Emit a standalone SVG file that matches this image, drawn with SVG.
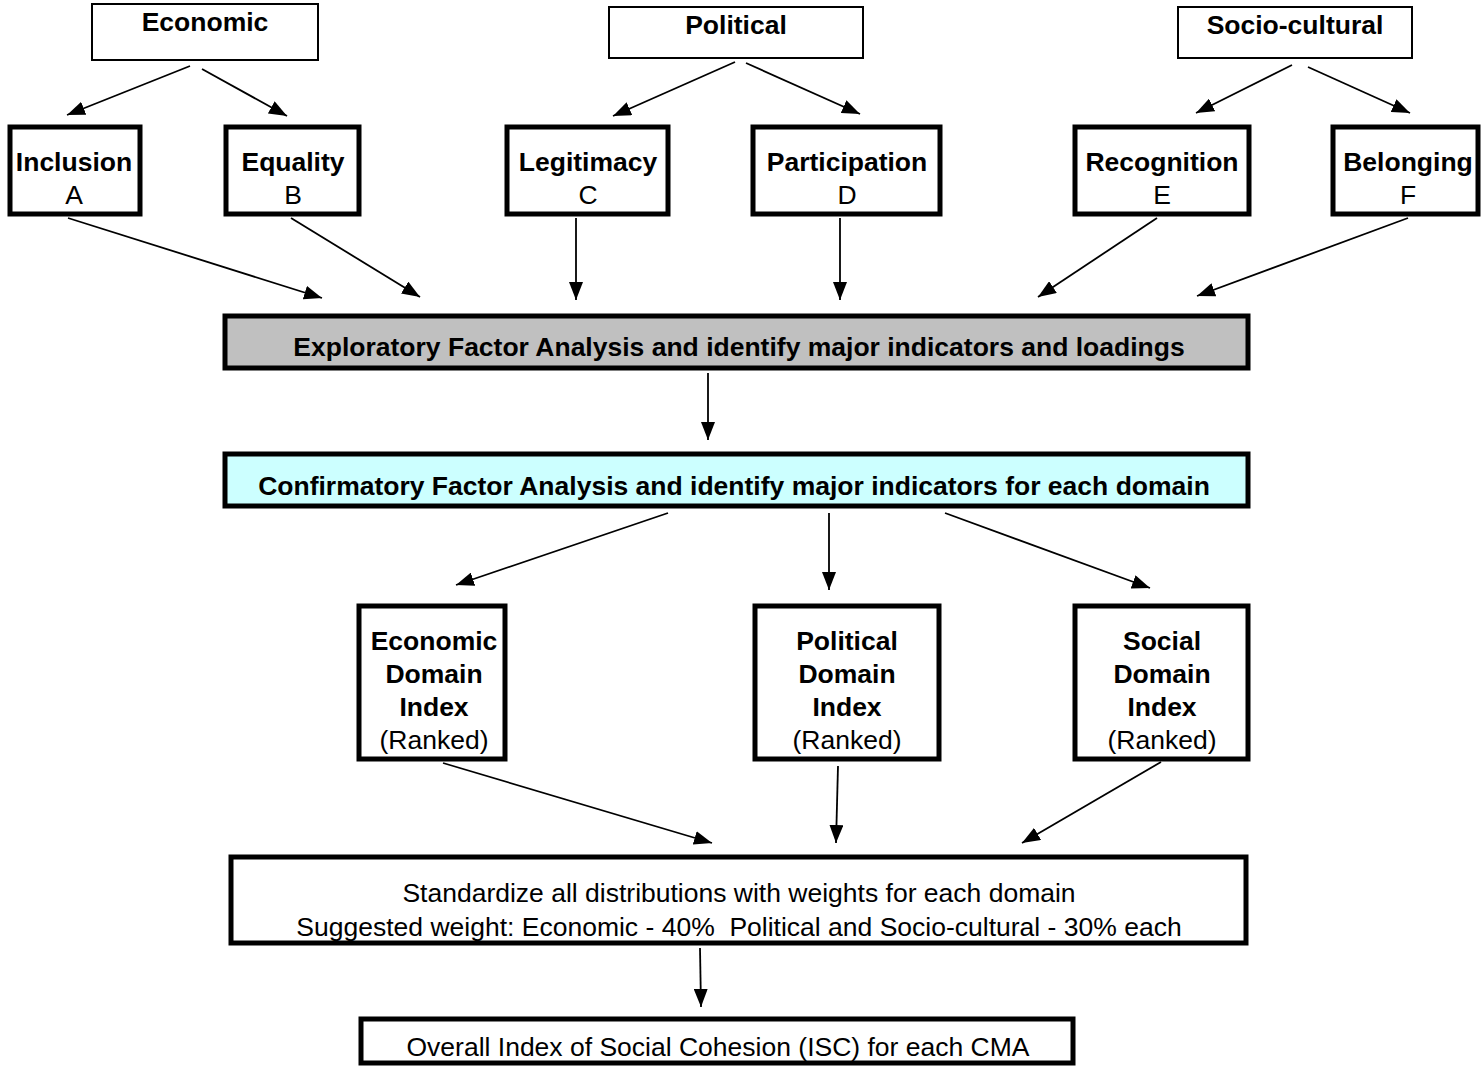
<svg xmlns="http://www.w3.org/2000/svg" width="1484" height="1067" viewBox="0 0 1484 1067">
<defs>
<marker id="ah" markerWidth="18" markerHeight="14" refX="18" refY="7" orient="auto" markerUnits="userSpaceOnUse" viewBox="0 0 18 14">
<path d="M0,0 L18,7 L0,14 z" fill="#000"/>
</marker>
<style>
.thin{fill:#fff;stroke:#000;stroke-width:2}
.thick{fill:#fff;stroke:#000;stroke-width:5}
.b{font-family:"Liberation Sans",Arial,sans-serif;font-weight:bold;font-size:26.5px;text-anchor:middle;fill:#000}
.r{font-family:"Liberation Sans",Arial,sans-serif;font-size:26.5px;text-anchor:middle;fill:#000}
.c{stroke:#000;stroke-width:1.8;fill:none;marker-end:url(#ah)}
</style>
</defs>
<rect width="1484" height="1067" fill="#fff"/>
<g id="economic"><rect class="thin" x="92" y="4" width="226" height="56"/><text class="b" x="205" y="31">Economic</text></g>
<g id="political"><rect class="thin" x="609" y="7" width="254" height="51"/><text class="b" x="736" y="34">Political</text></g>
<g id="sociocultural"><rect class="thin" x="1178" y="7" width="234" height="51"/><text class="b" x="1295" y="34">Socio-cultural</text></g>

<g id="inclusion"><rect class="thick" x="10" y="127" width="130" height="87"/><text class="b" x="74" y="171">Inclusion</text><text class="r" x="74" y="204">A</text></g>
<g id="equality"><rect class="thick" x="226" y="127" width="133" height="87"/><text class="b" x="293" y="171">Equality</text><text class="r" x="293" y="204">B</text></g>
<g id="legitimacy"><rect class="thick" x="507" y="127" width="161" height="87"/><text class="b" x="588" y="171">Legitimacy</text><text class="r" x="588" y="204">C</text></g>
<g id="participation"><rect class="thick" x="753" y="127" width="187" height="87"/><text class="b" x="847" y="171">Participation</text><text class="r" x="847" y="204">D</text></g>
<g id="recognition"><rect class="thick" x="1075" y="127" width="174" height="87"/><text class="b" x="1162" y="171">Recognition</text><text class="r" x="1162" y="204">E</text></g>
<g id="belonging"><rect class="thick" x="1333" y="127" width="145" height="87"/><text class="b" x="1408" y="171">Belonging</text><text class="r" x="1408" y="204">F</text></g>

<g id="efa"><rect x="225" y="316" width="1023" height="52" fill="#c0c0c0" stroke="#000" stroke-width="5"/><text class="b" x="739" y="356">Exploratory Factor Analysis and identify major indicators and loadings</text></g>
<g id="cfa"><rect x="225" y="454" width="1023" height="52" fill="#ccffff" stroke="#000" stroke-width="5"/><text class="b" x="734" y="495">Confirmatory Factor Analysis and identify major indicators for each domain</text></g>

<g id="econ-index"><rect class="thick" x="359" y="606" width="146" height="153"/><text class="b" x="434" y="650">Economic</text><text class="b" x="434" y="683">Domain</text><text class="b" x="434" y="716">Index</text><text class="r" x="434" y="749">(Ranked)</text></g>
<g id="pol-index"><rect class="thick" x="755" y="606" width="184" height="153"/><text class="b" x="847" y="650">Political</text><text class="b" x="847" y="683">Domain</text><text class="b" x="847" y="716">Index</text><text class="r" x="847" y="749">(Ranked)</text></g>
<g id="soc-index"><rect class="thick" x="1075" y="606" width="173" height="153"/><text class="b" x="1162" y="650">Social</text><text class="b" x="1162" y="683">Domain</text><text class="b" x="1162" y="716">Index</text><text class="r" x="1162" y="749">(Ranked)</text></g>

<g id="standardize"><rect class="thick" x="231" y="857" width="1015" height="86"/><text class="r" x="739" y="902">Standardize all distributions with weights for each domain</text><text class="r" x="739" y="936" xml:space="preserve">Suggested weight: Economic - 40%  Political and Socio-cultural - 30% each</text></g>
<g id="overall"><rect class="thick" x="361" y="1019" width="712" height="44"/><text class="r" x="718" y="1056">Overall Index of Social Cohesion (ISC) for each CMA</text></g>

<g id="connectors">
<line class="c" x1="190" y1="66" x2="67" y2="115"/>
<line class="c" x1="202" y1="69" x2="287" y2="116"/>
<line class="c" x1="735" y1="62" x2="613" y2="116"/>
<line class="c" x1="746" y1="63" x2="860" y2="114"/>
<line class="c" x1="1292" y1="65" x2="1196" y2="113"/>
<line class="c" x1="1308" y1="67" x2="1410" y2="113"/>
<line class="c" x1="68" y1="218" x2="322" y2="298"/>
<line class="c" x1="291" y1="218" x2="420" y2="297"/>
<line class="c" x1="576" y1="218" x2="576" y2="300"/>
<line class="c" x1="840" y1="218" x2="840" y2="300"/>
<line class="c" x1="1157" y1="218" x2="1038" y2="297"/>
<line class="c" x1="1408" y1="218" x2="1197" y2="296"/>
<line class="c" x1="708" y1="373" x2="708" y2="440"/>
<line class="c" x1="668" y1="513" x2="456" y2="585"/>
<line class="c" x1="829" y1="513" x2="829" y2="590"/>
<line class="c" x1="945" y1="513" x2="1150" y2="588"/>
<line class="c" x1="443" y1="763" x2="712" y2="843"/>
<line class="c" x1="838" y1="766" x2="836" y2="843"/>
<line class="c" x1="1161" y1="762" x2="1022" y2="843"/>
<line class="c" x1="700" y1="948" x2="701" y2="1007"/>
</g>
</svg>
